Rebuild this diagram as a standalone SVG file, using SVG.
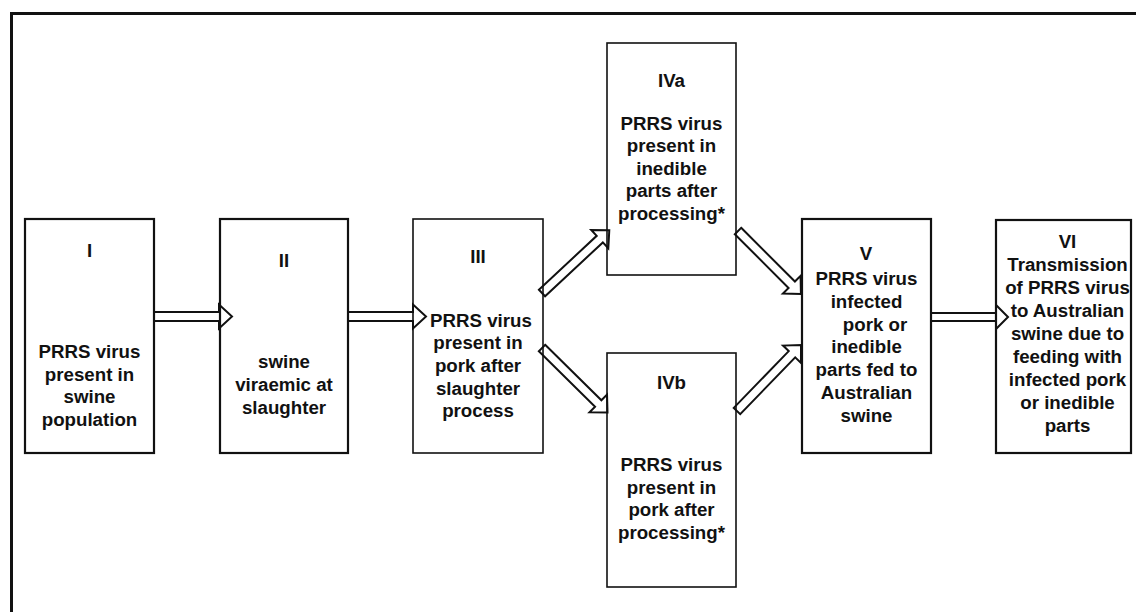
<svg xmlns="http://www.w3.org/2000/svg" width="1136" height="612" viewBox="0 0 1136 612">
  <defs>
    <style>
      .frame { fill: none; stroke: #111; stroke-width: 3; }
      .box { fill: none; stroke: #111; stroke-width: 2.2; }
      .box.thin { stroke-width: 1.6; }
      .arrow { fill: #fff; stroke: #111; stroke-width: 2; stroke-linejoin: miter; }
      text { font-family: "Liberation Sans", Arial, sans-serif; font-weight: bold; font-size: 18.7px; fill: #111; text-anchor: middle; }
    </style>
    <!-- block arrow pointing along +x, tail at origin, tip at (L,0) -->
    <polygon id="blk92" points="0,-4.5 79,-4.5 79,-12.5 92,0 79,12.5 79,4.5 0,4.5"/>
    <polygon id="blk89" points="0,-4.5 76,-4.5 76,-12.5 89,0 76,12.5 76,4.5 0,4.5"/>
  </defs>

  <rect width="1136" height="612" fill="#fff"/>
  <rect class="frame" x="11.5" y="13.5" width="1200" height="700"/>

  <g id="connectors">
    <!-- I -> II -->
    <polygon class="arrow" points="154,312 219,312 219,304.5 232,316.5 219,328.5 219,321 154,321"/>
    <!-- II -> III -->
    <polygon class="arrow" points="348,312 413,312 413,304.5 426,316.5 413,328.5 413,321 348,321"/>
    <!-- V -> VI -->
    <polygon class="arrow" points="931,313 996,313 996,305 1008,317 996,329 996,321 931,321"/>
    <!-- III -> IVa -->
    <use href="#blk92" class="arrow" transform="translate(542,293) rotate(-43)"/>
    <!-- III -> IVb -->
    <use href="#blk92" class="arrow" transform="translate(542,348) rotate(44.6)"/>
    <!-- IVa -> V -->
    <use href="#blk89" class="arrow" transform="translate(738,231) rotate(45)"/>
    <!-- IVb -> V -->
    <use href="#blk92" class="arrow" transform="translate(737,411) rotate(-45.9)"/>
  </g>

  <g id="node-I">
    <rect class="box" x="25" y="219" width="129" height="234"/>
    <text x="89.5" y="256.7">I</text>
    <text x="89.5" y="358">PRRS virus</text>
    <text x="89.5" y="380.7">present in</text>
    <text x="89.5" y="403.3">swine</text>
    <text x="89.5" y="426">population</text>
  </g>

  <g id="node-II">
    <rect class="box" x="220" y="219" width="128" height="234"/>
    <text x="284" y="267">II</text>
    <text x="284" y="368.4">swine</text>
    <text x="284" y="391.4">viraemic at</text>
    <text x="284" y="414">slaughter</text>
  </g>

  <g id="node-III">
    <rect class="box thin" x="413" y="219" width="130" height="234"/>
    <text x="478" y="263">III</text>
    <text x="481" y="326.7">PRRS virus</text>
    <text x="478" y="349.3">present in</text>
    <text x="478" y="372">pork after</text>
    <text x="478" y="394.6">slaughter</text>
    <text x="478" y="417.2">process</text>
  </g>

  <g id="node-IVa">
    <rect class="box thin" x="607" y="43" width="129" height="232"/>
    <text x="671.5" y="86.7">IVa</text>
    <text x="671.5" y="129.5">PRRS virus</text>
    <text x="671.5" y="152">present in</text>
    <text x="671.5" y="174.6">inedible</text>
    <text x="671.5" y="197.2">parts after</text>
    <text x="671.5" y="219.8">processing*</text>
  </g>

  <g id="node-IVb">
    <rect class="box thin" x="607" y="353" width="129" height="234"/>
    <text x="671.5" y="389.3">IVb</text>
    <text x="671.5" y="471">PRRS virus</text>
    <text x="671.5" y="493.6">present in</text>
    <text x="671.5" y="516.2">pork after</text>
    <text x="671.5" y="538.8">processing*</text>
  </g>

  <g id="node-V">
    <rect class="box" x="802" y="219" width="129" height="234"/>
    <text x="866" y="260">V</text>
    <text x="866.5" y="285">PRRS virus</text>
    <text x="866.5" y="307.8">infected</text>
    <text x="875" y="330.6">pork or</text>
    <text x="866.5" y="353.4">inedible</text>
    <text x="866.5" y="376.2">parts fed to</text>
    <text x="866.5" y="399">Australian</text>
    <text x="866.5" y="421.8">swine</text>
  </g>

  <g id="node-VI">
    <rect class="box" x="996" y="220" width="135" height="233"/>
    <text x="1067.5" y="248.3">VI</text>
    <text x="1067.5" y="271.2">Transmission</text>
    <text x="1067.5" y="294.1">of PRRS virus</text>
    <text x="1067.5" y="317">to Australian</text>
    <text x="1067.5" y="339.9">swine due to</text>
    <text x="1067.5" y="362.8">feeding with</text>
    <text x="1067.5" y="385.7">infected pork</text>
    <text x="1067.5" y="408.6">or inedible</text>
    <text x="1067.5" y="431.5">parts</text>
  </g>
</svg>
